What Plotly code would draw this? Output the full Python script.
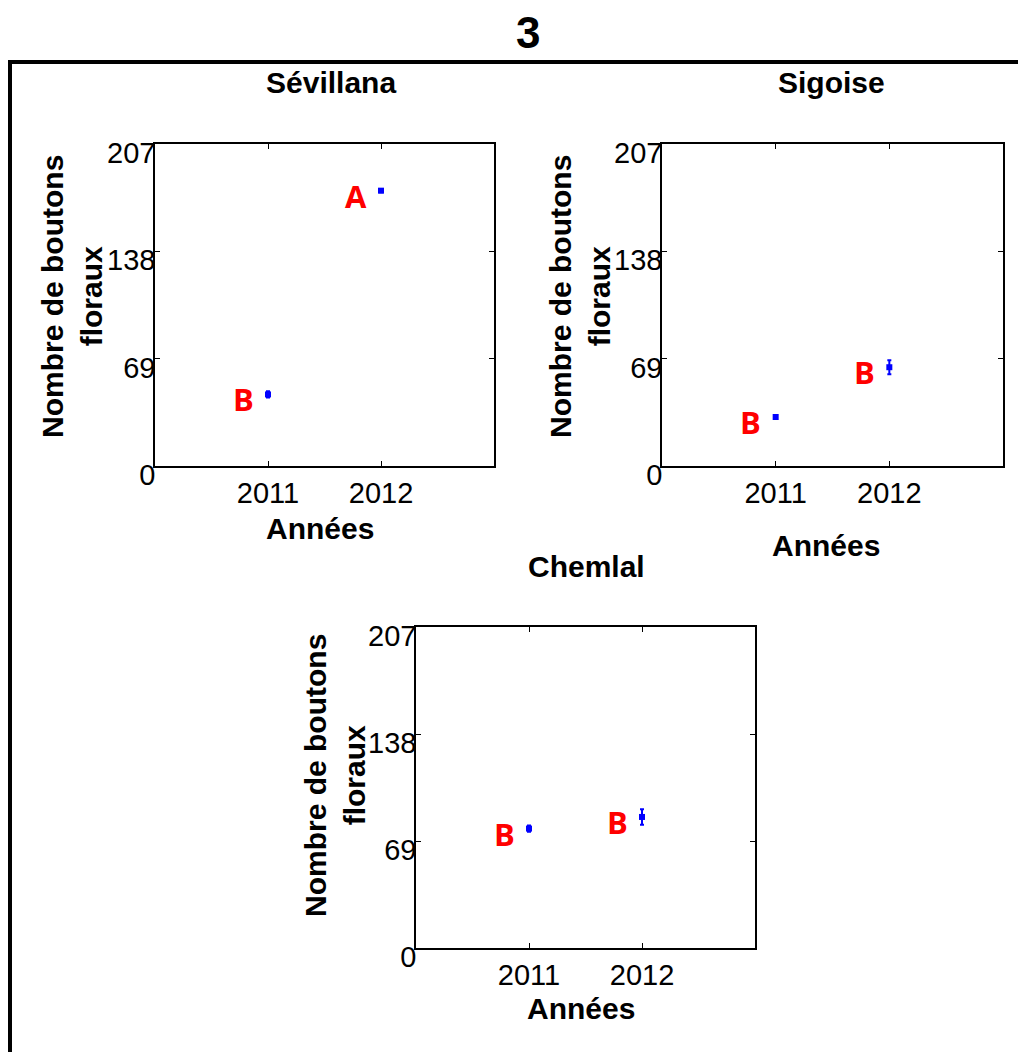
import plotly.graph_objects as go

# Flower-bud counts per olive variety and year
years = [2011, 2012]
varieties = ["Sévillana", "Sigoise", "Chemlal"]
bud_means = {
    "Sévillana": [46, 177],
    "Sigoise": [31.5, 63.5],
    "Chemlal": [77, 84.5],
}
bud_errors = {
    "Sévillana": [2, 1],
    "Sigoise": [1, 4.5],
    "Chemlal": [2, 5],
}
group_letters = {
    "Sévillana": ["B", "A"],
    "Sigoise": ["B", "B"],
    "Chemlal": ["B", "B"],
}
y_ticks = [0, 69, 138, 207]

W, H = 1018, 1052

def px(x):
    return x / W

def py(y):
    return 1 - y / H

# panel boxes in pixels: (left, right, top, bottom)
boxes = {
    "Sévillana": (155, 494, 144, 466),
    "Sigoise": (662, 1003, 144, 466),
    "Chemlal": (416, 755, 627, 948),
}
# centres of the panel titles and axis titles
title_pos = {"Sévillana": (331, 83), "Sigoise": (831, 83), "Chemlal": (586, 566)}
ytitle_pos = {"Sévillana": (72, 297), "Sigoise": (580, 297), "Chemlal": (335, 776)}
xtitle_pos = {"Sévillana": (320, 528), "Sigoise": (826, 545), "Chemlal": (581, 1008)}

fig = go.Figure()
annotations = []
tick_font = dict(family="Liberation Sans, Arial", size=29, color="black")
bold_font = dict(family="Liberation Sans, Arial", size=30, color="black")
letter_font = dict(family="Open Sans, Noto Sans", size=31, color="#ff0000")


def label(x, y, text, font, angle=0):
    return dict(x=px(x), y=py(y), xref="paper", yref="paper", text=text,
                showarrow=False, font=font, textangle=angle,
                xanchor="center", yanchor="middle")


for i, name in enumerate(varieties):
    n = "" if i == 0 else str(i + 1)
    l, r, t, b = boxes[name]
    fig.add_trace(go.Scatter(
        x=years, y=bud_means[name], mode="markers",
        marker=dict(symbol="square", size=6, color="#0000ff"),
        error_y=dict(type="data", array=bud_errors[name], color="#0000ff",
                     thickness=2, width=2),
        xaxis="x" + n, yaxis="y" + n, showlegend=False,
    ))
    common = dict(showline=True, linecolor="black", linewidth=1.5, mirror="allticks",
                  ticks="inside", ticklen=5, tickcolor="black", showgrid=False,
                  zeroline=False, tickfont=tick_font, automargin=False)
    fig.update_layout(**{
        "xaxis" + n: dict(domain=[px(l), px(r)], range=[2010, 2013],
                          tickvals=years, ticktext=[str(y) for y in years],
                          anchor="y" + n, **common),
        "yaxis" + n: dict(domain=[py(b), py(t)], range=[0, 207],
                          tickvals=y_ticks, anchor="x" + n,
                          ticklabelshift=9, ticklabelstandoff=-8, **common),
    })
    # significance letters beside each mean
    for yr, v, let in zip(years, bud_means[name], group_letters[name]):
        annotations.append(dict(
            x=yr, y=v, xref="x" + n, yref="y" + n, text="<b>%s</b>" % let,
            showarrow=False, xshift=-25, yshift=-5, font=letter_font,
            xanchor="center", yanchor="middle"))
    annotations.append(label(*title_pos[name], "<b>%s</b>" % name, bold_font))
    annotations.append(label(*ytitle_pos[name], "<b>Nombre de boutons<br>floraux</b>",
                             bold_font, angle=-90))
    annotations.append(label(*xtitle_pos[name], "<b>Années</b>", bold_font))

# figure label
annotations.append(label(528, 32, "<b>3</b>",
                         dict(family="Liberation Sans, Arial", size=44, color="black")))

# outer frame (top and left edges)
shapes = [
    dict(type="line", xref="paper", yref="paper", x0=px(8), x1=1.0,
         y0=py(62), y1=py(62), line=dict(color="black", width=4)),
    dict(type="line", xref="paper", yref="paper", x0=px(10), x1=px(10),
         y0=py(60), y1=0, line=dict(color="black", width=4)),
]

fig.update_layout(
    width=W, height=H, margin=dict(l=0, r=0, t=0, b=0, autoexpand=False),
    paper_bgcolor="white", plot_bgcolor="white",
    annotations=annotations, shapes=shapes,
)

fig.write_html("out.html")
